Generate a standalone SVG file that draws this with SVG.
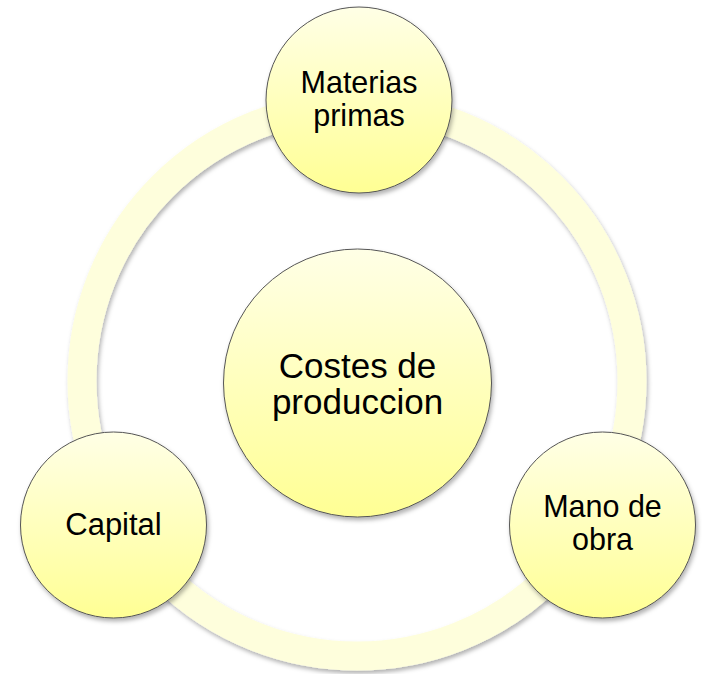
<svg xmlns="http://www.w3.org/2000/svg" width="702" height="674" viewBox="0 0 702 674">
  <defs>
    <linearGradient id="fillGrad" x1="0" y1="0" x2="0" y2="1">
      <stop offset="0" stop-color="#FFFFE6"/>
      <stop offset="1" stop-color="#FFFF94"/>
    </linearGradient>
    <filter id="shadow" x="-20%" y="-20%" width="140%" height="140%">
      <feDropShadow dx="1.5" dy="3" stdDeviation="2" flood-color="#000" flood-opacity="0.3"/>
    </filter>
  </defs>
  <style>
    .ring { fill: none; stroke: #FEFEDC; stroke-width: 29; }
    .node { fill: url(#fillGrad); stroke: #555; stroke-width: 1; }
    .label { font-family: "Liberation Sans", Arial, sans-serif; fill: #000; text-anchor: middle; }
  </style>
  <rect width="702" height="674" fill="#FFFFFF"/>
  <g id="connectors">
    <circle class="ring" cx="357" cy="381" r="275" filter="url(#shadow)"/>
  </g>
  <g id="materias-primas">
    <circle class="node" cx="359" cy="100" r="93" filter="url(#shadow)"/>
    <text class="label" x="359" y="93" font-size="30.5">Materias</text>
    <text class="label" x="359" y="126" font-size="30.5">primas</text>
  </g>
  <g id="capital">
    <circle class="node" cx="113.5" cy="525" r="93" filter="url(#shadow)"/>
    <text class="label" x="113.5" y="535" font-size="31">Capital</text>
  </g>
  <g id="mano-de-obra">
    <circle class="node" cx="602.5" cy="525" r="93" filter="url(#shadow)"/>
    <text class="label" x="602.5" y="517" font-size="30.5">Mano de</text>
    <text class="label" x="602.5" y="550" font-size="30.5">obra</text>
  </g>
  <g id="costes-de-produccion">
    <circle class="node" cx="357.5" cy="383" r="134" filter="url(#shadow)"/>
    <text class="label" x="357.5" y="378" font-size="35">Costes de</text>
    <text class="label" x="357.5" y="414" font-size="35">produccion</text>
  </g>
</svg>
